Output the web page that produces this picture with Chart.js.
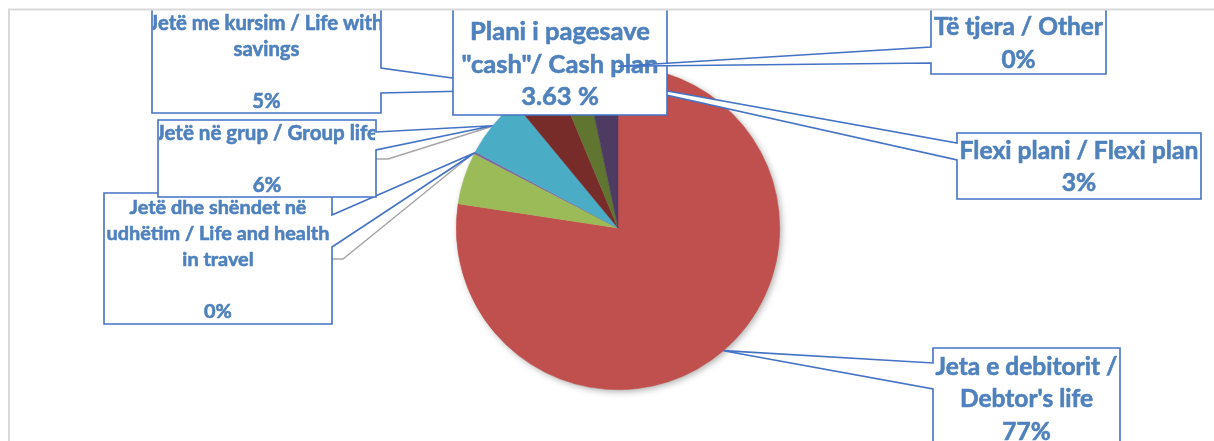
<!DOCTYPE html>
<html>
<head>
<meta charset="utf-8">
<script src="https://cdn.jsdelivr.net/npm/chart.js@4.4.1/dist/chart.umd.min.js"></script>
<style>
  html, body { margin: 0; padding: 0; background: #fff; }
  #wrap { width: 1214px; height: 441px; position: relative; }
</style>
</head>
<body>
<div id="wrap"><canvas id="pie"></canvas></div>
<script>
// slices, clockwise from 12 o'clock
const categories = [
  "Jeta e debitorit / Debtor's life",
  'Plani i pagesave "cash"/ Cash plan',
  "Jetë dhe shëndet në udhëtim / Life and health in travel",
  "Jetë në grup / Group life",
  "Jetë me kursim / Life with savings",
  "Flexi plani / Flexi plan",
  "Të tjera / Other"
];
const shares = [77.4, 5.2, 0.2, 6.2, 4.7, 3.0, 3.3];
const shareLabels = ["77%", "3.63 %", "0%", "6%", "5%", "3%", "0%"];
// how the names wrap inside the callout boxes
const nameLines = [
  ["Jeta e debitorit /", "Debtor's life"],
  ["Plani i pagesave", '"cash"/ Cash plan'],
  ["Jetë dhe shëndet në", "udhëtim / Life and health", "in travel", ""],
  ["Jetë në grup / Group life", ""],
  ["Jetë me kursim / Life with", "savings", ""],
  ["Flexi plani / Flexi plan"],
  ["Të tjera / Other"]
];
const sliceColors = ["#C0504D", "#9BBB59", "#8064A2", "#4BACC6", "#772C2A", "#5F7530", "#4D3B62"];

// callout boxes (layout only)
const boxes = [
  { box: [933, 348, 1120, 480], side: "left",  bases: [363, 389], y0: 367, lh: 32.5, fit: [0, 182], frac: 0.5 },
  { box: [453, -30, 667, 115],  side: null,    y0: 32,  lh: 32.5, fit: [1, 197] },
  { box: [104, 193, 332, 324],  side: "right", bases: [215, 247], y0: 208, lh: 26, fit: [1, 223], frac: 0.5, leader: [259, 343] },
  { box: [158, 120, 376, 197],  side: "right", bases: [132, 150], y0: 133, lh: 26, fit: [0, 222], frac: 0.5, leader: [159, 388] },
  { box: [152, -30, 381, 113],  side: "right", bases: [68, 93],   y0: 23,  lh: 26, fit: [0, 234], frac: 0.5 },
  { box: [957, 133, 1201, 199], side: "left",  bases: [143, 160], y0: 151, lh: 32, fit: [0, 239], frac: 0.5 },
  { box: [931, -30, 1106, 74],  side: "left",  bases: [47, 63],   y0: 27,  lh: 33, fit: [0, 169], frac: 1 }
];
const drawOrder = [2, 3, 4, 5, 1, 6, 0];

const FONT = "Lato, 'Open Sans', sans-serif";

function tipOf(chart, i, frac) {
  const arc = chart.getDatasetMeta(0).data[i];
  const a = arc.startAngle + frac * (arc.endAngle - arc.startAngle);
  return [arc.x + arc.outerRadius * Math.cos(a), arc.y + arc.outerRadius * Math.sin(a)];
}

const callouts = {
  id: "callouts",
  beforeDatasetsDraw(chart) {
    // soft shadow under the whole pie
    const arc = chart.getDatasetMeta(0).data[0];
    const ctx = chart.ctx;
    ctx.save();
    ctx.shadowColor = "rgba(0,0,0,0.35)";
    ctx.shadowBlur = 7;
    ctx.shadowOffsetX = 2;
    ctx.shadowOffsetY = 2;
    ctx.fillStyle = "#fff";
    ctx.beginPath();
    ctx.arc(arc.x, arc.y, arc.outerRadius - 0.5, 0, Math.PI * 2);
    ctx.fill();
    ctx.restore();
  },
  afterDraw(chart) {
    const ctx = chart.ctx;
    ctx.save();
    ctx.beginPath();
    ctx.rect(10, 10, chart.width, chart.height);
    ctx.clip();

    // grey leader lines
    ctx.strokeStyle = "#A6A6A6";
    ctx.lineWidth = 1.5;
    boxes.forEach((b, i) => {
      if (!b.leader) return;
      const t = tipOf(chart, i, b.frac);
      ctx.beginPath();
      ctx.moveTo(b.box[2], b.leader[0]);
      ctx.lineTo(b.leader[1], b.leader[0]);
      ctx.lineTo(t[0] - 2, t[1] + 1);
      ctx.stroke();
    });

    drawOrder.forEach(i => {
      const b = boxes[i];
      const [L, T, R, B] = b.box;
      ctx.beginPath();
      ctx.moveTo(L, T);
      ctx.lineTo(R, T);
      if (b.side === "right") {
        const t = tipOf(chart, i, b.frac);
        ctx.lineTo(R, b.bases[0]);
        ctx.lineTo(t[0], t[1]);
        ctx.lineTo(R, b.bases[1]);
      }
      ctx.lineTo(R, B);
      ctx.lineTo(L, B);
      if (b.side === "left") {
        const t = tipOf(chart, i, b.frac);
        ctx.lineTo(L, b.bases[1]);
        ctx.lineTo(t[0], t[1]);
        ctx.lineTo(L, b.bases[0]);
      }
      ctx.closePath();
      ctx.fillStyle = "#fff";
      ctx.fill();
      ctx.strokeStyle = "#4472C4";
      ctx.lineWidth = 1.6;
      ctx.lineJoin = "miter";
      ctx.stroke();

      // text, sized to the measured width of one line
      const lines = nameLines[i].concat([shareLabels[i]]);
      ctx.font = "bold 26px " + FONT;
      const w = ctx.measureText(lines[b.fit[0]]).width;
      const size = 26 * b.fit[1] / w;
      ctx.save();
      ctx.beginPath();
      ctx.rect(L + 1, T + 1, R - L - 2, B - T - 2);
      ctx.clip();
      ctx.font = "bold " + size.toFixed(2) + "px " + FONT;
      ctx.fillStyle = "#4F81BD";
      ctx.strokeStyle = "#4F81BD";
      ctx.lineWidth = 0.6;
      ctx.textAlign = "center";
      ctx.textBaseline = "middle";
      lines.forEach((s, k) => {
        if (!s) return;
        ctx.fillText(s, (L + R) / 2, b.y0 + k * b.lh);
        ctx.strokeText(s, (L + R) / 2, b.y0 + k * b.lh);
      });
      ctx.restore();
    });
    ctx.restore();

    // chart area frame
    ctx.save();
    ctx.strokeStyle = "#D9D9D9";
    ctx.lineWidth = 2;
    ctx.beginPath();
    ctx.moveTo(9, chart.height + 5);
    ctx.lineTo(9, 9.5);
    ctx.lineTo(chart.width + 5, 9.5);
    ctx.stroke();
    ctx.restore();
  }
};

new Chart(document.getElementById("pie"), {
  type: "pie",
  data: {
    labels: categories,
    datasets: [{
      data: shares,
      backgroundColor: sliceColors,
      borderColor: sliceColors,
      borderWidth: 0.5,
      hoverOffset: 0
    }]
  },
  options: {
    responsive: true,
    maintainAspectRatio: false,
    animation: false,
    events: [],
    layout: { padding: { left: 456, right: 434, top: 66, bottom: 51 } },
    plugins: {
      legend: { display: false },
      tooltip: { enabled: false }
    }
  },
  plugins: [callouts]
});
</script>
</body>
</html>
